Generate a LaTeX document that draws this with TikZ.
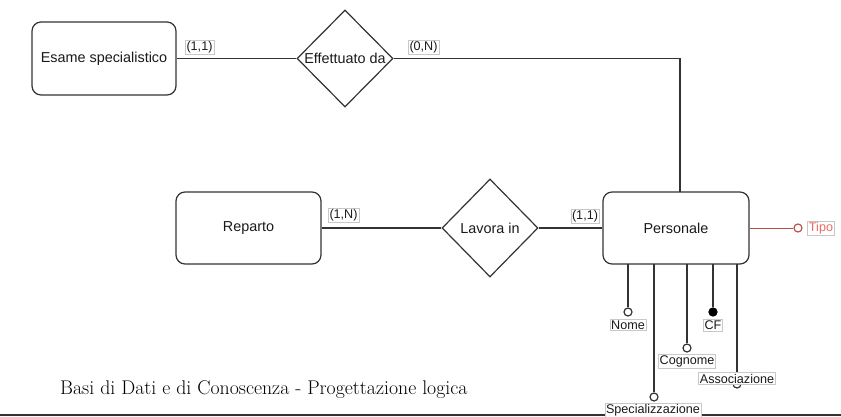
\documentclass[tikz,border=0pt]{standalone}
\usepackage{fontspec}
\setsansfont{Liberation Sans}
\usetikzlibrary{shapes.geometric}
\definecolor{ln}{HTML}{333333}
\definecolor{tx}{HTML}{1A1A1A}
\definecolor{lblbd}{HTML}{C8C8C8}
\definecolor{redln}{HTML}{B85450}
\definecolor{redtx}{HTML}{EA6B66}
\tikzset{
  entity/.style={draw=ln, line width=1.2pt, rounded corners=9pt, fill=white, font=\sffamily\fontsize{14.4}{16}\selectfont, text=tx},
  relship/.style={draw=ln, line width=1.2pt, diamond, inner sep=0pt, fill=white},
  reltext/.style={font=\sffamily\fontsize{14.4}{16}\selectfont, text=tx, inner sep=0pt},
  card/.style={draw=lblbd, line width=0.5pt, fill=white, inner sep=1.3pt, font=\sffamily\fontsize{12.6}{14}\selectfont, text=tx},
  conn/.style={draw=ln, line width=1.2pt},
  attrc/.style={circle, draw=ln, line width=1.2pt, fill=white, inner sep=0pt, minimum size=8pt},
  keyc/.style={circle, draw=black, line width=1.2pt, fill=black, inner sep=0pt, minimum size=8pt},
}
\begin{document}
\begin{tikzpicture}[x=1pt, y=-1pt]
\useasboundingbox (0,0) rectangle (841,417);
\fill[white] (0,0) rectangle (841,417);

% entities
\node[entity, minimum width=144pt, minimum height=73pt] (esame) at (104,58.5) {Esame specialistico};
\node[entity, minimum width=145pt, minimum height=72pt] (reparto) at (248.5,228) {Reparto};
\node[entity, minimum width=146pt, minimum height=72pt] (pers) at (676,228) {Personale};

% relationships
\node[relship, minimum width=96pt, minimum height=97pt] (eff) at (345,58.5) {};
\node[reltext] (efft) at (eff) {Effettuato da};
\node[relship, minimum width=96pt, minimum height=98pt] (lav) at (490,228) {};
\node[reltext] (lavt) at (lav) {Lavora in};

% connectors
\coordinate (pt) at (680,192);
\draw[conn] (esame.east) -- (eff.west);
\draw[conn] (eff.east) -| (pt);
\draw[conn] (reparto.east) -- (lav.west);
\draw[conn] (lav.east) -- (pers.west);

% cardinalities
\node[card] (c1) at (199.5,47) {(1,1)};
\node[card] (c2) at (423.5,47) {(0,N)};
\node[card] (c3) at (343.5,215) {(1,N)};
\node[card] (c4) at (585,216) {(1,1)};

% attribute Tipo
\node[circle, draw=redln, line width=1.2pt, fill=white, inner sep=0pt, minimum size=8pt] (tipoc) at (798,228) {};
\draw[draw=redln, line width=1pt] (pers.east) -- (tipoc.west);
\node[card, text=redtx] (tipol) at (821,228) {Tipo};

% attribute circles
\node[attrc] (nomec) at (628,312) {};
\node[keyc] (cfc) at (713,312) {};
\node[attrc] (cognc) at (687,348) {};
\node[attrc] (assoc) at (737,384) {};
\node[attrc] (specc) at (654,397) {};

\coordinate (pn) at (628,264);
\coordinate (ps) at (654,264);
\coordinate (pc) at (687,264);
\coordinate (pf) at (713,264);
\coordinate (pa) at (737,264);
\draw[conn] (pn) -- (nomec.north);
\draw[conn] (ps) -- (specc.north);
\draw[conn] (pc) -- (cognc.north);
\draw[conn] (pf) -- (cfc.north);
\draw[conn] (pa) -- (assoc.north);

% attribute labels
\node[card] (nomel) at (628,325) {Nome};
\node[card] (cfl) at (713,325) {CF};
\node[card] (cognl) at (687,361) {Cognome};
\node[card] (assol) at (737,378.5) {Associazione};

% caption and rule
\node[anchor=base west, inner sep=0pt, font=\fontsize{19.8}{22}\selectfont, text=black] (cap) at (60,394) {Basi di Dati e di Conoscenza - Progettazione logica};
\coordinate (rl) at (0,415);
\coordinate (rr) at (841,415);
\draw[draw=ln, line width=2pt] (rl) -- (rr);
\node[card] (specl) at (653,410) {Specializzazione};
\end{tikzpicture}
\end{document}
